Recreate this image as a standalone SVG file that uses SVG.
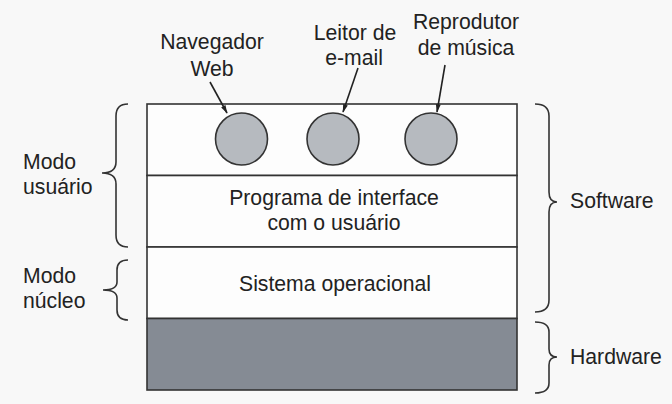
<svg xmlns="http://www.w3.org/2000/svg" width="672" height="404" viewBox="0 0 672 404">
<defs>
<marker id="ah" viewBox="0 0 12 10" refX="11" refY="5" markerWidth="9" markerHeight="7" markerUnits="userSpaceOnUse" orient="auto">
<path d="M0,1.5 L12,5 L0,8.5 Z" fill="#222"/>
</marker>
<style>
text{font-family:"Liberation Sans",Arial,sans-serif;font-size:21.2px;fill:#222}
.c{text-anchor:middle}
.box{fill:#fdfdfd;stroke:#333;stroke-width:1.6}
.hw{fill:#858b94;stroke:#333;stroke-width:1.6}
.app{fill:#b6babf;stroke:#333;stroke-width:1.6}
.br{fill:none;stroke:#333;stroke-width:1.6}
.ar{stroke:#222;stroke-width:1.6;fill:none;marker-end:url(#ah)}
</style>
</defs>
<rect width="672" height="404" fill="#f8f8f8"/>
<g id="apps-layer"><rect class="box" x="147" y="104" width="370" height="71.5"/></g>
<g id="ui-layer"><rect class="box" x="147" y="175.5" width="370" height="71.5"/>
<text class="c" x="334" y="205">Programa de interface</text>
<text class="c" x="334" y="230">com o usuário</text></g>
<g id="os-layer"><rect class="box" x="147" y="247" width="370" height="71.5"/>
<text class="c" x="335" y="291">Sistema operacional</text></g>
<g id="hw-layer"><rect class="hw" x="147" y="318.5" width="370" height="71.5"/></g>
<g id="navegador"><circle class="app" cx="241.5" cy="139" r="26"/>
<text class="c" x="212" y="49">Navegador</text><text class="c" x="212" y="76">Web</text></g>
<g id="email"><circle class="app" cx="333" cy="139" r="26"/>
<text class="c" x="355" y="40">Leitor de</text><text class="c" x="354" y="65">e-mail</text></g>
<g id="musica"><circle class="app" cx="431" cy="139" r="26"/>
<text class="c" x="466" y="29">Reprodutor</text><text class="c" x="466" y="55">de música</text></g>
<g id="modo-usuario"><path class="br" d="M128,104 Q116,104 116,116 L116,162 Q116,173 102,173 Q116,173 116,184 L116,235 Q116,247 128,247"/>
<text x="23" y="169">Modo</text><text x="23" y="194">usuário</text></g>
<g id="modo-nucleo"><path class="br" d="M128,260 Q117,260 117,270 L117,282 Q117,290 103,290 Q117,290 117,298 L117,310 Q117,320 128,320"/>
<text x="23" y="283">Modo</text><text x="23" y="308">núcleo</text></g>
<g id="software"><path class="br" d="M535,104 Q549,104 549,116 L549,192 Q549,202 557,202 Q549,202 549,212 L549,300 Q549,312 535,312"/>
<text x="570" y="208">Software</text></g>
<g id="hardware"><path class="br" d="M535,322 Q549,322 549,332 L549,349 Q549,357 557,357 Q549,357 549,365 L549,383 Q549,393 535,393"/>
<text x="570" y="364">Hardware</text></g>
<g id="connectors">
<line class="ar" x1="210" y1="82" x2="227" y2="113"/>
<line class="ar" x1="358" y1="68" x2="343" y2="112"/>
<line class="ar" x1="445" y1="65" x2="437" y2="112"/>
</g>
</svg>
